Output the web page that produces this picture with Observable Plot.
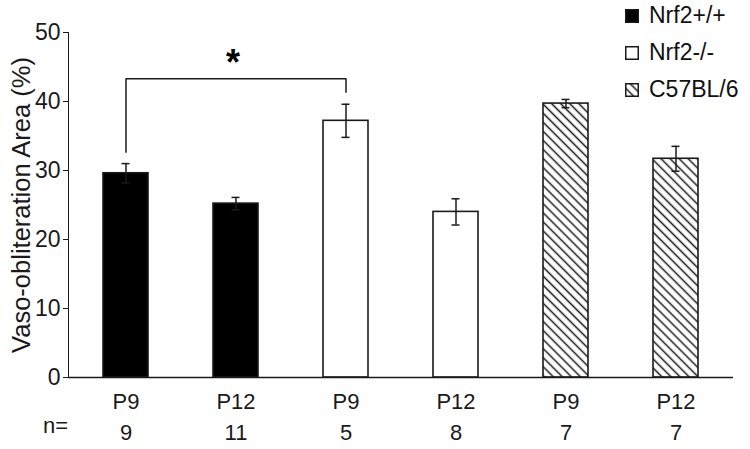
<!DOCTYPE html>
<html>
<head>
<meta charset="utf-8">
<script src="https://cdn.jsdelivr.net/npm/d3@7"></script>
<script src="https://cdn.jsdelivr.net/npm/@observablehq/plot@0.6"></script>
<style>
  body { margin: 0; background: #fff; font-family: "Liberation Sans", Arial, sans-serif; }
  #wrap { position: relative; width: 750px; height: 449px; }
  #legend { position: absolute; left: 625px; top: -3px; font-size: 23px; color: #111; }
  #legend .row { display: flex; align-items: center; height: 37px; }
  #legend svg { margin-right: 10px; }
</style>
</head>
<body>
<div id="wrap"><div id="legend"></div></div>
<script>
// ---- data ----
const groups = ["Nrf2+/+", "Nrf2+/+", "Nrf2-/-", "Nrf2-/-", "C57BL/6", "C57BL/6"];
const ages = ["P9", "P12", "P9", "P12", "P9", "P12"];
const nValues = [9, 11, 5, 8, 7, 7];
const means = [29.6, 25.2, 37.2, 24.0, 39.7, 31.7];
const errors = [1.4, 0.9, 2.4, 1.9, 0.6, 1.8];
const groupNames = ["Nrf2+/+", "Nrf2-/-", "C57BL/6"];
const yTicks = [0, 10, 20, 30, 40, 50];
const yLabel = "Vaso-obliteration Area (%)";
// significance bracket: from bar 0 to bar 2
const sigFrom = 0, sigTo = 2, sigY = 43.3, sigFromLow = 32.5, sigToLow = 41.2;

const fills = {"Nrf2+/+": "#000", "Nrf2-/-": "#fff", "C57BL/6": "url(#hatch)"};
const ids = ages.map((a, i) => groups[i] + " " + a);
const rows = ids.map((id, i) => ({id, group: groups[i], age: ages[i], n: nValues[i], mean: means[i], err: errors[i]}));

const font = "Liberation Sans, Arial, sans-serif";
const ink = "#1a1a1a";

const plot = Plot.plot({
  width: 750,
  height: 449,
  marginLeft: 68,
  marginRight: 17,
  marginTop: 32,
  marginBottom: 72,
  style: {fontFamily: font, fontSize: "23px", color: ink, background: "#fff", overflow: "visible"},
  x: {domain: ids, paddingInner: 0.59, paddingOuter: 0.295, axis: null},
  y: {domain: [0, 50], ticks: yTicks, tickSize: 5, tickPadding: 3, label: null, line: true},
  marks: [
    Plot.barY(rows, {x: "id", y: "mean", fill: d => fills[d.group], stroke: ink, strokeWidth: 1.6}),
    Plot.ruleX(rows, {x: "id", y1: d => d.mean - d.err, y2: d => d.mean + d.err, stroke: ink, strokeWidth: 1.5}),
    Plot.tickY(rows, {x: "id", y: d => d.mean + d.err, stroke: ink, strokeWidth: 1.5, insetLeft: 18.5, insetRight: 18.5}),
    Plot.tickY(rows, {x: "id", y: d => d.mean - d.err, stroke: ink, strokeWidth: 1.5, insetLeft: 18.5, insetRight: 18.5}),
    Plot.ruleY([0], {stroke: ink, strokeWidth: 1.6}),
    // bracket
    Plot.ruleX([{x: ids[sigFrom], y1: sigFromLow, y2: sigY}, {x: ids[sigTo], y1: sigToLow, y2: sigY}], {x: "x", y1: "y1", y2: "y2", stroke: ink, strokeWidth: 1.5}),
    Plot.link([{x1: ids[sigFrom], x2: ids[sigTo], y: sigY}], {x1: "x1", x2: "x2", y1: "y", y2: "y", stroke: ink, strokeWidth: 1.5}),
    Plot.text([{x: ids[1], y: sigY}], {x: "x", y: "y", text: () => "*", dy: -4, dx: -3, fontSize: 36, fontWeight: "bold", fill: "#000", textAnchor: "middle", lineAnchor: "bottom"}),
    // x labels
    Plot.text(rows, {x: "id", y: 0, text: "age", dy: 24, fill: ink, fontSize: 22}),
    Plot.text(rows, {x: "id", y: 0, text: d => String(d.n), dy: 55, fill: ink, fontSize: 22}),
    Plot.text(["n="], {frameAnchor: "bottom-left", text: d => d, dx: -13, dy: 55, fill: ink, fontSize: 22, textAnchor: "middle"}),
    // y label
    Plot.text([yLabel], {frameAnchor: "left", text: d => d, rotate: -90, dx: -47, fill: ink, fontSize: 25.5, textAnchor: "middle"})
  ]
});

// hatch pattern
const ns = "http://www.w3.org/2000/svg";
function addHatch(svg, id) {
  const defs = document.createElementNS(ns, "defs");
  defs.innerHTML = `<pattern id="${id}" patternUnits="userSpaceOnUse" width="8" height="6.4" patternTransform="rotate(45)">
    <rect width="8" height="6.4" fill="#fff"/>
    <line x1="0" y1="3.2" x2="8" y2="3.2" stroke="${ink}" stroke-width="1.5"/></pattern>`;
  svg.insertBefore(defs, svg.firstChild);
}
addHatch(plot, "hatch");
plot.style.position = "absolute";
plot.style.left = "0";
plot.style.top = "0";
document.getElementById("wrap").prepend(plot);

// legend
const legend = document.getElementById("legend");
groupNames.forEach((g, i) => {
  const row = document.createElement("div");
  row.className = "row";
  const sw = document.createElementNS(ns, "svg");
  sw.setAttribute("width", 14); sw.setAttribute("height", 14);
  if (i === 2) addHatch(sw, "hatchLegend");
  const r = document.createElementNS(ns, "rect");
  r.setAttribute("x", 0.75); r.setAttribute("y", 0.75); r.setAttribute("width", 12.5); r.setAttribute("height", 12.5);
  r.setAttribute("fill", i === 2 ? "url(#hatchLegend)" : fills[g]);
  r.setAttribute("stroke", ink); r.setAttribute("stroke-width", 1.5);
  sw.appendChild(r);
  row.appendChild(sw);
  const t = document.createElement("span");
  t.textContent = g;
  row.appendChild(t);
  legend.appendChild(row);
});
</script>
</body>
</html>
